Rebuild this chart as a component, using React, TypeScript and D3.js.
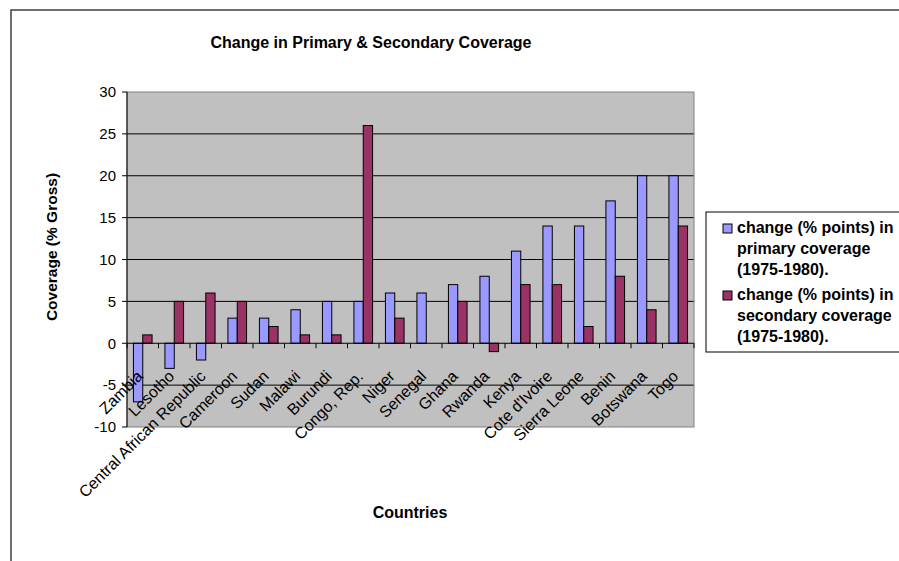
import React from 'react';
import * as d3 from 'd3';

const countries = [
  'Zambia', 'Lesotho', 'Central African Republic', 'Cameroon', 'Sudan', 'Malawi',
  'Burundi', 'Congo, Rep.', 'Niger', 'Senegal', 'Ghana', 'Rwanda', 'Kenya',
  "Cote d'Ivoire", 'Sierra Leone', 'Benin', 'Botswana', 'Togo',
];
const primaryChange = [-7, -3, -2, 3, 3, 4, 5, 5, 6, 6, 7, 8, 11, 14, 14, 17, 20, 20];
const secondaryChange = [1, 5, 6, 5, 2, 1, 1, 26, 3, null, 5, -1, 7, 7, 2, 8, 4, 14];
const yTicks = [-10, -5, 0, 5, 10, 15, 20, 25, 30];
const seriesNames = ['primary', 'secondary'];
const legendLines = [
  ['change (% points) in', 'primary coverage', '(1975-1980).'],
  ['change (% points) in', 'secondary coverage', '(1975-1980).'],
];
const colors = ['#9999FF', '#993366'];

const W = 899;
const H = 561;
const plot = { left: 127, right: 694, top: 92, bottom: 427 };
const font = '"Liberation Sans", Arial, sans-serif';

export default function App() {
  const x = d3.scaleBand<string>().domain(countries).range([plot.left, plot.right]).padding(0);
  const xs = d3.scaleBand<string>().domain(seriesNames).range([0, x.bandwidth()])
    .paddingInner(0).paddingOuter(0.69);
  const y = d3.scaleLinear().domain([-10, 30]).range([plot.bottom, plot.top]);
  const y0 = y(0);

  const bars: { key: string; x: number; y: number; w: number; h: number; fill: string }[] = [];
  countries.forEach((c, i) => {
    [primaryChange[i], secondaryChange[i]].forEach((v, s) => {
      if (v === null || v === undefined) return;
      const bx = (x(c) ?? 0) + (xs(seriesNames[s]) ?? 0);
      bars.push({
        key: c + s,
        x: bx,
        y: Math.min(y(v), y0),
        w: xs.bandwidth(),
        h: Math.abs(y(v) - y0),
        fill: colors[s],
      });
    });
  });

  const boundaries = countries.map(c => x(c) ?? 0).concat([plot.right]);

  return (
    <svg width={W} height={H} style={{ position: 'absolute', left: 0, top: 0, background: '#fff' }}
      fontFamily={font}>
      {/* chart frame */}
      <path d={`M11,${H + 5} V10 H${W + 5}`} fill="none" stroke="#404040" strokeWidth={1.5} />

      <text x={371} y={48} textAnchor="middle" fontSize={16} fontWeight="bold">
        Change in Primary &amp; Secondary Coverage
      </text>

      {/* plot area */}
      <rect x={plot.left} y={plot.top} width={plot.right - plot.left} height={plot.bottom - plot.top}
        fill="#C0C0C0" />
      {yTicks.filter(t => t !== 30 && t !== -10 && t !== 0).map(t => (
        <line key={t} x1={plot.left} x2={plot.right} y1={y(t)} y2={y(t)} stroke="#000" strokeWidth={1} />
      ))}
      <rect x={plot.left} y={plot.top} width={plot.right - plot.left} height={plot.bottom - plot.top}
        fill="none" stroke="#808080" strokeWidth={1} />

      {bars.map(b => (
        <rect key={b.key} x={b.x} y={b.y} width={b.w} height={b.h} fill={b.fill}
          stroke="#000" strokeWidth={1} />
      ))}

      {/* y axis */}
      <line x1={plot.left} x2={plot.left} y1={plot.top} y2={plot.bottom} stroke="#000" />
      {yTicks.map(t => (
        <g key={t}>
          <line x1={plot.left - 5} x2={plot.left} y1={y(t)} y2={y(t)} stroke="#000" />
          <text x={plot.left - 11} y={y(t)} dy="0.35em" textAnchor="end" fontSize={15}>{t}</text>
        </g>
      ))}

      {/* x axis at zero */}
      <line x1={plot.left} x2={plot.right} y1={y0} y2={y0} stroke="#000" />
      {boundaries.map((bx, i) => (
        <line key={i} x1={bx} x2={bx} y1={y0} y2={y0 + 5} stroke="#000" />
      ))}
      {countries.map(c => {
        const cx = (x(c) ?? 0) + x.bandwidth() / 2 + 1;
        const cy = y0 + 34;
        return (
          <text key={c} x={cx} y={cy} textAnchor="end" fontSize={16}
            transform={`rotate(-45, ${cx}, ${cy})`}>{c}</text>
        );
      })}

      <text transform="translate(57, 247) rotate(-90)" textAnchor="middle" fontSize={15.5}
        fontWeight="bold">Coverage (% Gross)</text>
      <text x={410} y={518} textAnchor="middle" fontSize={16} fontWeight="bold">Countries</text>

      {/* legend */}
      <rect x={706} y={212} width={220} height={140} fill="#fff" stroke="#000" strokeWidth={1} />
      {legendLines.map((lines, i) => {
        const top = 233 + i * 67;
        return (
          <g key={i}>
            <rect x={723} y={top - 9} width={9} height={9} fill={colors[i]} stroke="#000" />
            {lines.map((l, j) => (
              <text key={j} x={737} y={top + j * 21} fontSize={16} fontWeight="bold">{l}</text>
            ))}
          </g>
        );
      })}
    </svg>
  );
}
